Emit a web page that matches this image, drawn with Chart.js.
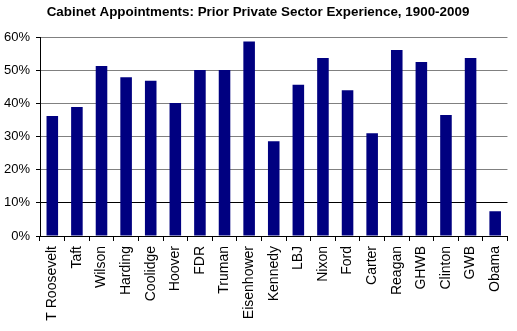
<!DOCTYPE html>
<html>
<head>
<meta charset="utf-8">
<script src="https://cdn.jsdelivr.net/npm/chart.js@4"></script>
<style>
  html, body { margin: 0; padding: 0; background: #fff; }
  #wrap { width: 517px; height: 331px; }
</style>
</head>
<body>
<div id="wrap"><canvas id="chart" width="517" height="331"></canvas></div>
<script>
/* Cabinet appointments — prior private sector experience */
const presidents = ['T Roosevelt', 'Taft', 'Wilson', 'Harding', 'Coolidge', 'Hoover', 'FDR',
  'Truman', 'Eisenhower', 'Kennedy', 'LBJ', 'Nixon', 'Ford', 'Carter', 'Reagan', 'GHWB',
  'Clinton', 'GWB', 'Obama'];
const privateShare = [36.2, 38.9, 51.3, 47.9, 46.8, 40.1, 50.1,
  50.1, 58.7, 28.6, 45.6, 53.7, 44.0, 31.0, 56.1, 52.5,
  36.5, 53.7, 7.5];
const yTicks = [0, 10, 20, 30, 40, 50, 60];

const FONT = 'Liberation Sans, Arial, sans-serif';
Chart.defaults.font.family = FONT;
Chart.defaults.color = '#000';

new Chart(document.getElementById('chart').getContext('2d'), {
  type: 'bar',
  data: {
    labels: presidents,
    datasets: [{
      data: privateShare,
      backgroundColor: '#000080',
      borderWidth: 0,
      barPercentage: 0.47,
      categoryPercentage: 1,
    }]
  },
  options: {
    responsive: false,
    animation: false,
    layout: { padding: { left: 0, right: 1, top: 0, bottom: 0 } },
    plugins: {
      legend: { display: false },
      tooltip: { enabled: false },
      title: {
        display: true,
        text: 'Cabinet Appointments: Prior Private Sector Experience, 1900-2009',
        color: '#000',
        font: { family: FONT, size: 13.4, weight: 'bold' },
        padding: { top: 4, bottom: 17 }
      }
    },
    scales: {
      x: {
        grid: { display: true, drawOnChartArea: false, drawTicks: true, tickLength: 5, tickColor: '#000', offset: true },
        border: { color: '#000', width: 1 },
        ticks: { color: '#000', font: { size: 14 }, minRotation: 90, maxRotation: 90, autoSkip: false, padding: 5 },
        afterFit: s => { s.height = 95; }
      },
      y: {
        min: 0,
        max: 60,
        afterBuildTicks: s => { s.ticks = yTicks.map(v => ({ value: v })); },
        grid: {
          color: c => c.tick && c.tick.value === 10 ? '#000' : '#808080',
          tickColor: '#000',
          tickLength: 4
        },
        border: { color: '#000', width: 1 },
        ticks: { color: '#000', font: { size: 13 }, padding: 6, callback: v => v + '%' },
        afterFit: s => { s.width = 40; }
      }
    }
  }
});
</script>
</body>
</html>
